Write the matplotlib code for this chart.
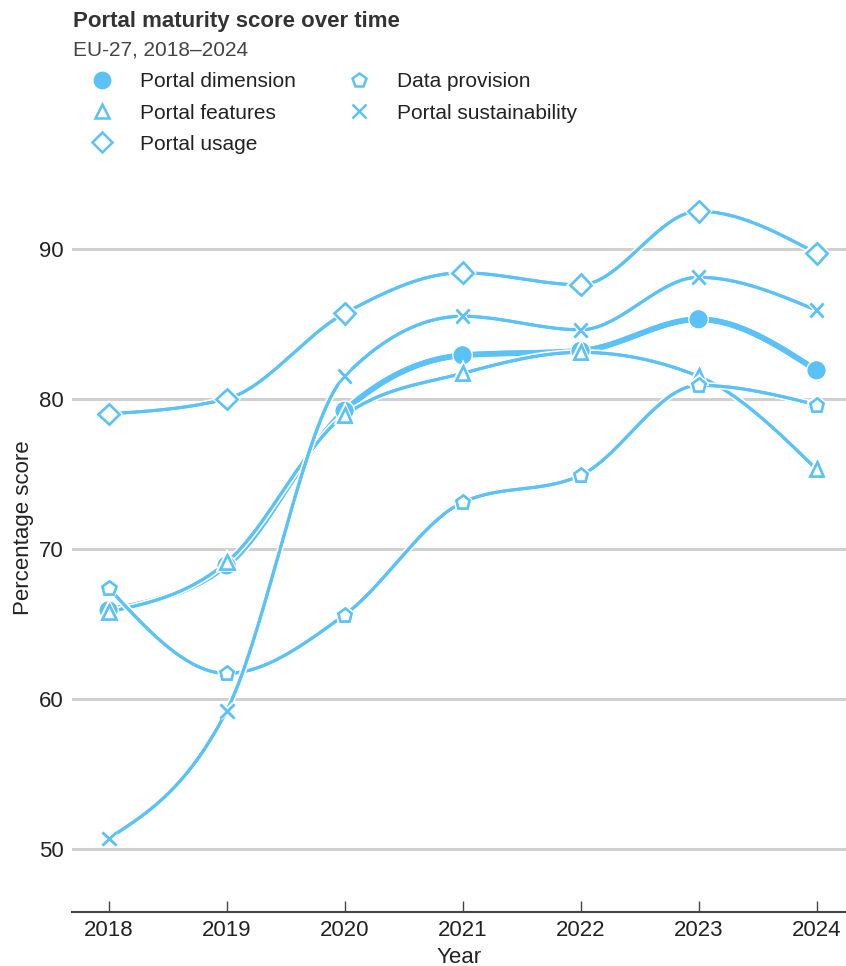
import numpy as np
import matplotlib.pyplot as plt
import matplotlib.patheffects as pe
from matplotlib.lines import Line2D

plt.rcParams['font.family'] = ['Liberation Sans', 'DejaVu Sans']

years = [2018, 2019, 2020, 2021, 2022, 2023, 2024]
portal_dimension = [65.9, 68.9, 79.2, 82.9, 83.2, 85.3, 81.9]
portal_features = [65.8, 69.1, 78.9, 81.7, 83.1, 81.5, 75.3]
portal_usage = [79.0, 80.0, 85.7, 88.4, 87.6, 92.5, 89.7]
data_provision = [67.4, 61.7, 65.6, 73.1, 74.9, 80.9, 79.6]
portal_sustainability = [50.7, 59.2, 81.5, 85.5, 84.6, 88.1, 85.9]

series_names = ['Portal dimension', 'Portal features', 'Portal usage',
                'Data provision', 'Portal sustainability']

blue = '#5bc2f7'


def monotone_x(x, y, n=40):
    # d3 curveMonotoneX style interpolation
    x = np.asarray(x, float)
    y = np.asarray(y, float)
    h = np.diff(x)
    s = np.diff(y) / h
    t = np.zeros(len(x))
    for i in range(1, len(x) - 1):
        p = (s[i - 1] * h[i] + s[i] * h[i - 1]) / (h[i - 1] + h[i])
        t[i] = (np.sign(s[i - 1]) + np.sign(s[i])) * min(abs(s[i - 1]), abs(s[i]), 0.5 * abs(p))
    t[0] = (3 * s[0] - t[1]) / 2
    t[-1] = (3 * s[-1] - t[-2]) / 2
    xs, ys = [], []
    for i in range(len(x) - 1):
        u = np.linspace(0, 1, n)
        h00 = 2 * u**3 - 3 * u**2 + 1
        h10 = u**3 - 2 * u**2 + u
        h01 = -2 * u**3 + 3 * u**2
        h11 = u**3 - u**2
        xs.append(x[i] + u * h[i])
        ys.append(h00 * y[i] + h10 * h[i] * t[i] + h01 * y[i + 1] + h11 * h[i] * t[i + 1])
    return np.concatenate(xs), np.concatenate(ys)


fig = plt.figure(figsize=(8.46, 9.66), dpi=100)
ax = fig.add_axes([0.0851, 0.0559, 0.9149, 0.772])

styles = [
    (portal_dimension, 'o', blue, 4.0, 11),
    (portal_features, '^', 'white', 2.2, 10),
    (portal_usage, 'D', 'white', 2.2, 10.5),
    (data_provision, 'p', 'white', 2.2, 10.5),
    (portal_sustainability, 'x', 'white', 2.2, 10),
]

for vals, mk, face, lw, ms in styles:
    cx, cy = monotone_x(years, vals)
    ax.plot(cx, cy, color=blue, lw=lw, solid_capstyle='butt',
            path_effects=[pe.withStroke(linewidth=lw + 2.5, foreground='white'), pe.Normal()],
            zorder=3)
    ax.plot(years, vals, linestyle='none', marker=mk, markersize=ms,
            markerfacecolor=face, markeredgecolor=blue, markeredgewidth=1.8,
            path_effects=[pe.withStroke(linewidth=4, foreground='white'), pe.Normal()],
            zorder=4)

ax.set_xlim(2017.69, 2024.25)
ax.set_ylim(45.8, 95.5)
ax.set_yticks([50, 60, 70, 80, 90])
ax.set_xticks(years)
ax.grid(axis='y', color='#d0d0d0', lw=2.2)
ax.set_axisbelow(True)
for side in ['top', 'right', 'left']:
    ax.spines[side].set_visible(False)
ax.spines['bottom'].set_color('#444444')
ax.spines['bottom'].set_linewidth(1.5)
ax.tick_params(axis='x', direction='in', length=8, width=1, color='#444444',
               labelsize=16, pad=6, labelcolor='#222222')
ax.tick_params(axis='y', length=0, labelsize=16, pad=6, labelcolor='#222222')
ax.set_xlabel('Year', fontsize=16, labelpad=4, color='#222222')
ax.set_ylabel('Percentage score', fontsize=16, color='#222222')
ax.yaxis.set_label_coords(-0.049, 0.516)

fig.text(0.0863, 0.9724, 'Portal maturity score over time', fontsize=16,
         fontweight='bold', color='#333333', va='baseline')
fig.text(0.0863, 0.943, 'EU-27, 2018\u20132024', fontsize=15, color='#444444', va='baseline')

handles = []
for (vals, mk, face, lw, ms), name in zip(styles, series_names):
    handles.append(Line2D([], [], linestyle='none', marker=mk, markersize=ms,
                          markerfacecolor=face, markeredgecolor=blue,
                          markeredgewidth=1.8, label=name))
fig.legend(handles=handles, ncol=2, loc='upper left', bbox_to_anchor=(0.1008, 0.925),
           frameon=False, fontsize=15, handlelength=1.6, handletextpad=1.03,
           columnspacing=2.23, labelspacing=0.58, borderpad=0, borderaxespad=0,
           labelcolor='#222222')

fig.savefig('out.png', dpi=100)
